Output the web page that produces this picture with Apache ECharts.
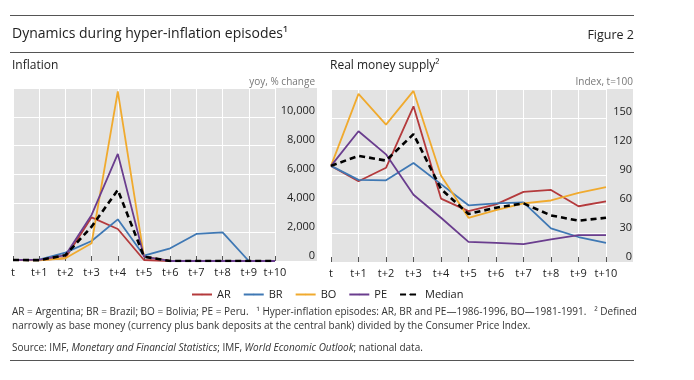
<!DOCTYPE html>
<html><head><meta charset="utf-8">
<script src="https://cdn.jsdelivr.net/npm/echarts@6/dist/echarts.min.js"></script>
<style>html,body{margin:0;padding:0;background:#fff}#c{width:694px;height:380px}</style>
</head><body><div id="c"></div>
<script>
// ---- data ----
var categories = ['t','t+1','t+2','t+3','t+4','t+5','t+6','t+7','t+8','t+9','t+10'];
// Inflation, yoy % change
var infAR = [70, 60, 200, 3030, 2220, 70, 0, 0, 0, 0, 0];
var infBR = [70, 100, 580, 1390, 2890, 370, 880, 1875, 1990, 0, 0];
var infBO = [70, 50, 190, 1230, 11760, 300, 0, 0, 0, 0, 0];
var infPE = [70, 80, 400, 3200, 7430, 300, 0, 0, 0, 0, 0];
var infMed = [70, 60, 400, 2380, 4930, 300, 0, 0, 0, 0, 0];
// Real money supply, index t=100
var rmAR = [100, 84, 98, 162, 66, 53, 60, 73, 75, 58, 63];
var rmBR = [100, 85.5, 85, 103, 81, 59, 61, 62, 35, 26, 20];
var rmBO = [100, 175, 143, 178, 90, 46, 54, 61, 64, 72, 78];
var rmPE = [100, 136, 112, 70, 46, 21, 20, 18.5, 23.5, 28, 28];
var rmMed = [100, 110.5, 105.5, 133, 76, 50, 56.5, 61, 48.5, 43, 46];
var seriesNames = ['AR','BR','BO','PE','Median'];
var infTicks = {min: 0, max: 12000, interval: 2000};
var rmTicks = {min: 0, max: 180, interval: 30};

// ---- styles ----
var colors = {AR:'#b43a3c', BR:'#3f78b4', BO:'#f0aa2e', PE:'#6a3d8e', Median:'#000000'};
var FONT = '"Open Sans", "Noto Sans", sans-serif';
var bg = '#e3e3e3';

var G0 = {left: 13, top: 88, width: 262, height: 173};
var G1 = {left: 331, top: 89, width: 275, height: 173};

function mkSeries(name, data, idx) {
  var med = name === 'Median';
  return {
    name: name, type: 'line', data: data, xAxisIndex: idx, yAxisIndex: idx,
    symbol: 'none', silent: true, z: med ? 5 : 3,
    lineStyle: {color: colors[name], width: med ? 2.6 : 1.8, type: med ? [6, 4] : 'solid'},
    itemStyle: {color: colors[name]}
  };
}
function xAxis(idx) {
  return {
    type: 'category', gridIndex: idx, data: categories, boundaryGap: false,
    axisLine: {show: false},
    axisTick: {show: true, inside: true, length: 5, alignWithLabel: true, lineStyle: {color: '#555', width: 1}},
    splitLine: {show: true, lineStyle: {color: '#ffffff', width: 1}},
    axisLabel: {color: '#222', fontFamily: FONT, fontSize: 11, margin: 6, interval: 0}
  };
}
function yAxis(idx, t, margin, fmt) {
  return {
    type: 'value', gridIndex: idx, position: 'right', min: t.min, max: t.max, interval: t.interval,
    axisLine: {show: false}, axisTick: {show: false},
    splitLine: {show: true, lineStyle: {color: '#ffffff', width: 1}},
    axisLabel: {color: '#222', fontFamily: FONT, fontSize: 11, margin: margin, align: 'right',
      verticalAlign: 'bottom', formatter: fmt, showMaxLabel: false}
  };
}
function txt(text, x, y, size, color, align, extra) {
  var s = {text: text, x: x, y: y, fill: color, fontFamily: FONT, fontSize: size,
    textAlign: align || 'left', textVerticalAlign: 'middle'};
  if (extra) for (var k in extra) s[k] = extra[k];
  return {type: 'text', style: s, silent: true};
}

var series = [];
var infData = {AR: infAR, BR: infBR, BO: infBO, PE: infPE, Median: infMed};
var rmData = {AR: rmAR, BR: rmBR, BO: rmBO, PE: rmPE, Median: rmMed};
seriesNames.forEach(function (n) { series.push(mkSeries(n, infData[n], 0)); });
seriesNames.forEach(function (n) { series.push(mkSeries(n, rmData[n], 1)); });

var option = {
  animation: false,
  backgroundColor: '#ffffff',
  grid: [
    {left: G0.left, top: G0.top, width: G0.width, height: G0.height},
    {left: G1.left, top: G1.top, width: G1.width, height: G1.height}
  ],
  xAxis: [xAxis(0), xAxis(1)],
  yAxis: [
    yAxis(0, infTicks, 40, function (v) { return v.toLocaleString('en-US'); }),
    yAxis(1, rmTicks, 26, function (v) { return String(v); })
  ],
  legend: {
    data: seriesNames.map(function (n) { return {name: n}; }),
    left: 186, top: 284, itemWidth: 20, itemHeight: 2, itemGap: 12,
    textStyle: {color: '#222', fontFamily: FONT, fontSize: 11},
    selectedMode: false
  },
  series: series,
  graphic: [
    {type: 'rect', z: -10, silent: true, shape: {x: 13, y: 88, width: 304, height: 173}, style: {fill: bg}},
    {type: 'rect', z: -10, silent: true, shape: {x: 331, y: 89, width: 302, height: 173}, style: {fill: bg}},
    {type: 'line', silent: true, shape: {x1: 10, y1: 15.5, x2: 634, y2: 15.5}, style: {stroke: '#555', lineWidth: 1}},
    {type: 'line', silent: true, shape: {x1: 10, y1: 52.5, x2: 634, y2: 52.5}, style: {stroke: '#555', lineWidth: 1}},
    {type: 'line', silent: true, shape: {x1: 10, y1: 360.5, x2: 634, y2: 360.5}, style: {stroke: '#555', lineWidth: 1}},
    txt('Dynamics during hyper-inflation episodes\u00B9', 12, 34, 14, '#222'),
    txt('Figure 2', 634, 35, 12.5, '#222', 'right'),
    txt('Inflation', 12, 66, 12, '#222'),
    txt('Real money supply\u00B2', 330, 66, 12, '#222'),
    txt('yoy, % change', 315, 82, 10, '#777', 'right'),
    txt('Index, t=100', 633, 82, 10, '#777', 'right'),
    txt('AR = Argentina; BR = Brazil; BO = Bolivia; PE = Peru.   \u00B9 Hyper-inflation episodes: AR, BR and PE\u20141986-1996, BO\u20141981-1991.   \u00B2 Defined', 12, 312, 10, '#333'),
    txt('narrowly as base money (currency plus bank deposits at the central bank) divided by the Consumer Price Index.', 12, 326, 10, '#333'),
    {type: 'text', silent: true, style: {
      text: '{n|Source: IMF, }{i|Monetary and Financial Statistics}{n|; IMF, }{i|World Economic Outlook}{n|; national data.}',
      x: 12, y: 348, textVerticalAlign: 'middle',
      rich: {
        n: {fontFamily: FONT, fontSize: 10, fill: '#333', color: '#333'},
        i: {fontFamily: FONT, fontSize: 10, fontStyle: 'italic', fill: '#333', color: '#333'}
      }
    }}
  ]
};
var chart = echarts.init(document.getElementById('c'), null, {renderer: 'canvas'});
chart.setOption(option);
</script>
</body></html>
